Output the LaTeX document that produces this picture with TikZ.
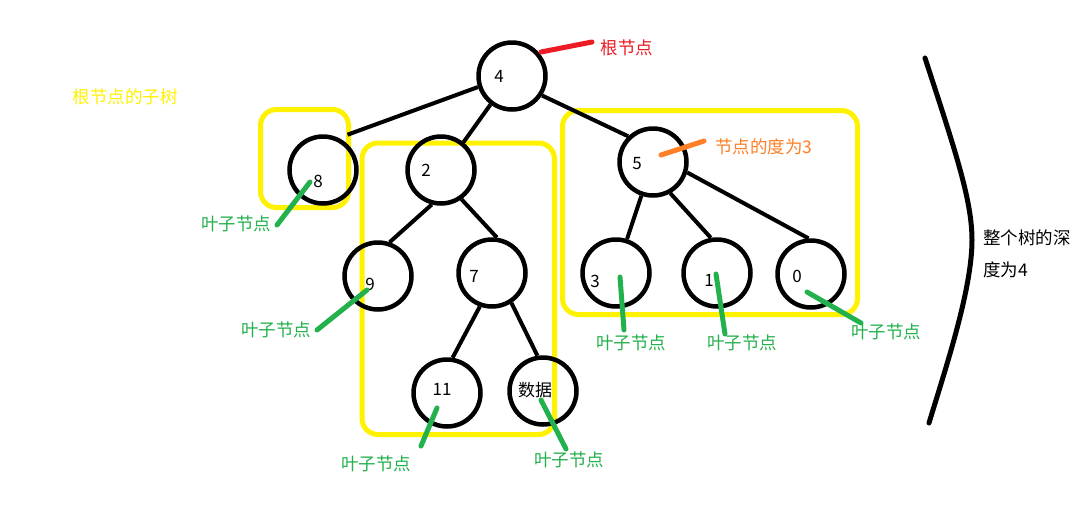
\documentclass[tikz,border=0pt]{standalone}
\usepackage{fontspec}
\setmainfont{Noto Sans CJK SC}
\definecolor{pyellow}{RGB}{255,242,0}
\definecolor{pred}{RGB}{237,28,36}
\definecolor{porange}{RGB}{255,127,39}
\definecolor{pgreen}{RGB}{34,177,76}
\begin{document}
\begin{tikzpicture}[x=1pt,y=-1pt,
  tnode/.style={circle,draw=black,line width=4.5pt,minimum size=67pt,inner sep=0pt},
  ttext/.style={inner sep=0pt,font=\fontsize{17}{20}\selectfont},
  edge/.style={line width=4pt,black},
  subbox/.style={draw=pyellow,line width=5pt,rounded corners=16pt},
  note/.style={inner sep=0pt,font=\fontsize{17.5}{20}\selectfont},
  pointer/.style={line width=5pt,line cap=round}]
\useasboundingbox (0,0) rectangle (1080,512);
\fill[white] (0,0) rectangle (1080,512);
% yellow subtree boxes
\draw[subbox] (260.5,109.5) rectangle (348.5,207.5);
\draw[subbox] (362,143) rectangle (554.5,434.5);
\draw[subbox] (562.5,110.5) rectangle (857.5,314.5);
% tree nodes
\node[tnode] (c4) at (512,76) {};
\node[tnode] (c8) at (323,170) {};
\node[tnode] (c2) at (441,170) {};
\node[tnode] (c5) at (653,162) {};
\node[tnode] (c9) at (378,276) {};
\node[tnode] (c7) at (492,273) {};
\node[tnode] (c3) at (616,273) {};
\node[tnode] (c1) at (717,273) {};
\node[tnode] (c0) at (811,274) {};
\node[tnode] (c11) at (447,393) {};
\node[tnode] (cd) at (543,391) {};
% texts in nodes
\node[ttext] (t4) at (499,76) {4};
\node[ttext] (t8) at (318,181) {8};
\node[ttext] (t2) at (426,170) {2};
\node[ttext] (t5) at (637,164) {5};
\node[ttext] (t9) at (370,284) {9};
\node[ttext] (t7) at (474,276) {7};
\node[ttext] (t3) at (595,281) {3};
\node[ttext] (t1) at (709,280) {1};
\node[ttext] (t0) at (797,276) {0};
\node[ttext] (t11) at (442,389) {11};
\node[ttext] (td) at (535,390) {数据};
% edges
\draw[edge] (c4.198) -- ([shift={(4,-6)}]c8.55);
\draw[edge] (c4.233) -- (c2.51);
\draw[edge] (c4.327) -- (c5.134);
\draw[edge] (c2.255) -- (c9.71);
\draw[edge] (c2.305) -- (c7.82);
\draw[edge] (c7.250) -- (c11.81);
\draw[edge] (c7.303) -- (cd.99);
\draw[edge] (c5.251) -- (c3.72);
\draw[edge] (c5.299) -- (c1.100);
\draw[edge] (c5.343) -- (c0.94);
% depth bracket
\coordinate (bt) at (925,58);
\coordinate (bm) at (972,240);
\coordinate (bb) at (929,423);
\draw[line width=5pt,line cap=round] (bt) .. controls (955,150) and (972,200) .. (bm) .. controls (972,290) and (945,370) .. (bb);
\node[note,anchor=west] (depth1) at (983,238) {整个树的深};
\node[note,anchor=west] (depth2) at (983,270) {度为4};
% root annotation
\node[note,text=pred] (lroot) at (627,48) {根节点};
\coordinate (pr1) at (541,52);
\coordinate (pr2) at (592,42);
\draw[pointer,draw=pred] (pr1) -- (pr2);
% degree annotation
\node[note,text=porange,anchor=west] (ldeg) at (715,147) {节点的度为3};
\coordinate (po1) at (661,155);
\coordinate (po2) at (704,141);
\draw[pointer,draw=porange] (po1) -- (po2);
% subtree label
\node[note,text=pyellow] (lsub) at (125,97) {根节点的子树};
% leaf annotations
\node[note,text=pgreen] (l8) at (236,224) {叶子节点};
\node[note,text=pgreen] (l9) at (276,330) {叶子节点};
\node[note,text=pgreen] (l11) at (376,464) {叶子节点};
\node[note,text=pgreen] (ld) at (569,460) {叶子节点};
\node[note,text=pgreen] (l3) at (631,343) {叶子节点};
\node[note,text=pgreen] (l1) at (742,343) {叶子节点};
\node[note,text=pgreen] (l0) at (886,332) {叶子节点};
\coordinate (g8a) at (310,182); \coordinate (g8b) at (277,225);
\coordinate (g9a) at (367,290); \coordinate (g9b) at (317,330);
\coordinate (g11a) at (437,408); \coordinate (g11b) at (421,446);
\coordinate (gda) at (541,400); \coordinate (gdb) at (566,449);
\coordinate (g3a) at (620,277); \coordinate (g3b) at (624,330);
\coordinate (g1a) at (716,274); \coordinate (g1b) at (725,334);
\coordinate (g0a) at (807,292); \coordinate (g0b) at (861,323);
\foreach \a/\b in {g8a/g8b,g9a/g9b,g11a/g11b,gda/gdb,g3a/g3b,g1a/g1b,g0a/g0b}
  \draw[pointer,draw=pgreen] (\a) -- (\b);
\end{tikzpicture}
\end{document}
